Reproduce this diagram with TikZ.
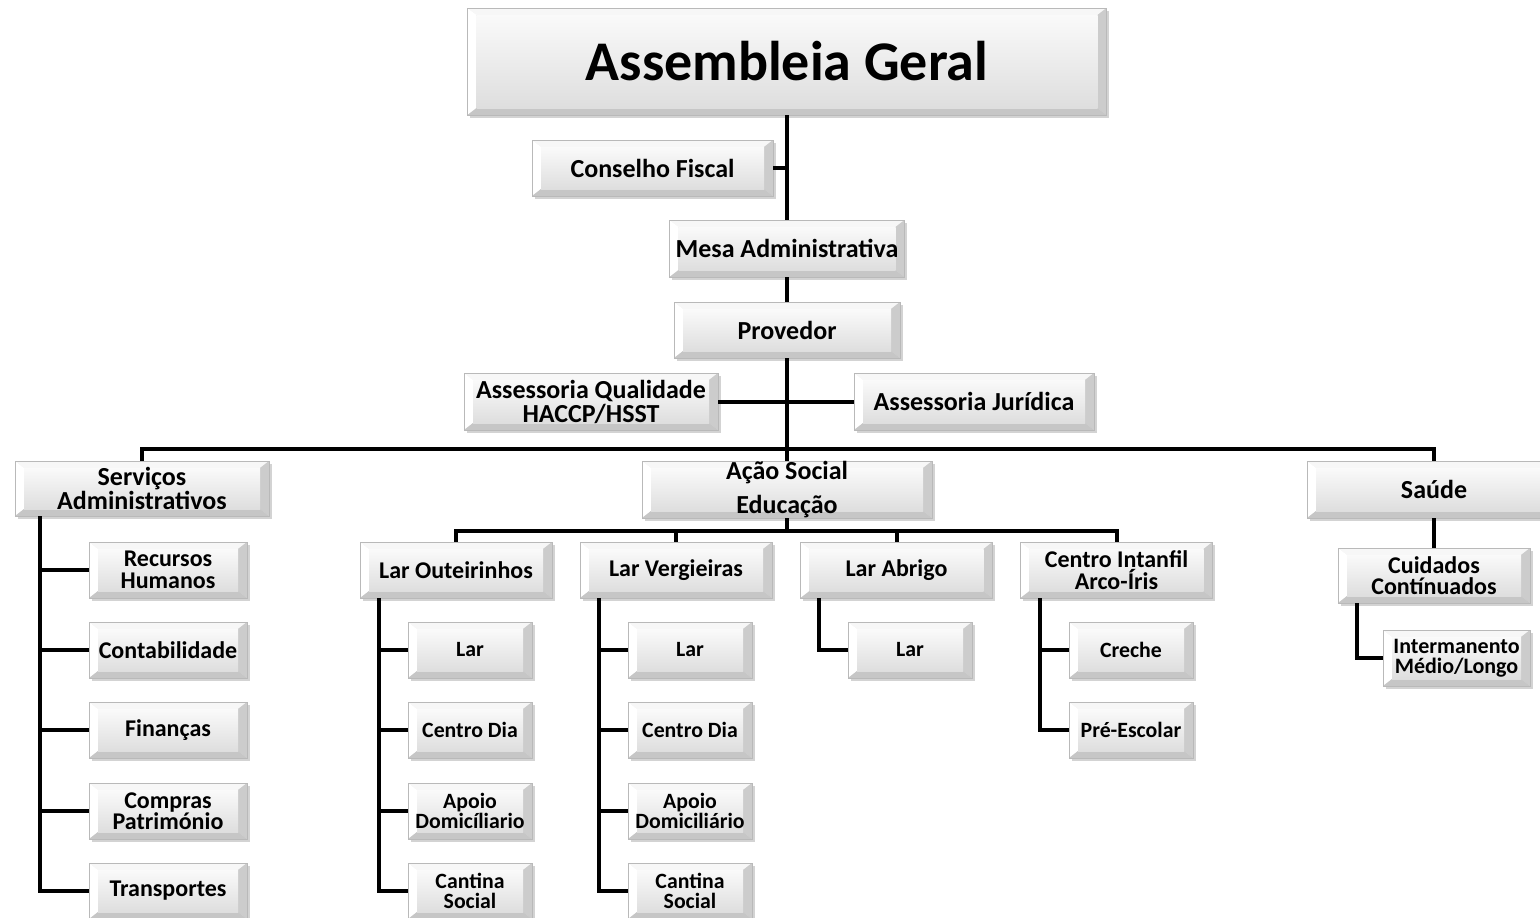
\documentclass[tikz,border=0pt]{standalone}
\usepackage{fontspec}
\setmainfont{Carlito}
\usetikzlibrary{shadows}
\tikzset{
  x=1pt, y=-1pt,
  bx/.style={draw=gray!55, line width=0.8pt, fill=gray!20,
    drop shadow={shadow xshift=2.5pt, shadow yshift=-2.5pt, opacity=0.35},
    align=center, inner sep=0pt, text=black,
    path picture={
      \path (path picture bounding box.north west) coordinate (pNW)
            (path picture bounding box.north east) coordinate (pNE)
            (path picture bounding box.south west) coordinate (pSW)
            (path picture bounding box.south east) coordinate (pSE);
      \path ([shift={(9pt,-7pt)}]pNW) coordinate (iNW)
            ([shift={(-9pt,-7pt)}]pNE) coordinate (iNE)
            ([shift={(9pt,7pt)}]pSW) coordinate (iSW)
            ([shift={(-9pt,7pt)}]pSE) coordinate (iSE);
      \fill[gray!6] (pNW) -- (iNW) -- (iNE) -- (pNE) -- cycle;
      \fill[white] (pNW) -- (iNW) -- (iSW) -- (pSW) -- cycle;
      \fill[gray!40] (pNE) -- (iNE) -- (iSE) -- (pSE) -- cycle;
      \fill[gray!45] (pSW) -- (iSW) -- (iSE) -- (pSE) -- cycle;
      \shade[top color=gray!4, bottom color=gray!26] (iNW) rectangle (iSE);
    }},
  fA/.style={font=\fontsize{56}{60}\selectfont\bfseries},
  fB/.style={font=\fontsize{26}{24}\selectfont\bfseries},
  fC/.style={font=\fontsize{24}{21.5}\selectfont\bfseries},
  fD/.style={font=\fontsize{21.8}{20.5}\selectfont\bfseries},
  fS/.style={font=\fontsize{24}{21.5}\selectfont\bfseries},
  small/.style={bx, fD, minimum width=124pt, minimum height=56pt},
  sadm/.style={bx, fS, minimum width=158pt, minimum height=56pt},
  mid/.style={bx, fC, minimum width=192pt, minimum height=56pt},
  ln/.style={line width=4pt, black}
}
\begin{document}
\begin{tikzpicture}
\useasboundingbox (0,0) rectangle (1540,918);
\coordinate (bus) at (0,449);
\coordinate (abus) at (0,531);
\coordinate (sx) at (40,0);
\coordinate (lox) at (379,0);
\coordinate (lvx) at (599,0);
\coordinate (lax) at (819,0);
\coordinate (cix) at (1040,0);
\coordinate (ccx) at (1357,0);

% top level
\node[bx, fA, minimum width=639pt, minimum height=107pt] (ag) at (787,61.5) {Assembleia Geral};
\node[bx, fB, minimum width=241pt, minimum height=56pt] (cf) at (652.5,168) {Conselho Fiscal};
\node[bx, fB, minimum width=235pt, minimum height=57pt] (ma) at (787,248.5) {Mesa Administrativa};
\node[bx, fB, minimum width=226pt, minimum height=56pt] (pv) at (787,330) {Provedor};
\node[bx, fB, minimum width=254pt, minimum height=57pt] (aq) at (591,401.5) {Assessoria Qualidade\\HACCP/HSST};
\node[bx, fB, minimum width=240pt, minimum height=57pt] (aj) at (974,401.5) {Assessoria Jurídica};
\node[bx, fB, minimum width=254pt, minimum height=55pt] (sa) at (142,488.5) {Serviços\\Administrativos};
\node[bx, fB, minimum width=290pt, minimum height=57pt] (as) at (787,489.5) {Ação Social\\[10pt]Educação};
\node[bx, fB, minimum width=254pt, minimum height=57pt] (sd) at (1434,489.5) {Saúde};

% servicos administrativos
\node[sadm] (rh) at (168,570) {Recursos\\Humanos};
\node[sadm] (ct) at (168,650) {Contabilidade};
\node[sadm] (fi) at (168,730) {Finanças};
\node[sadm] (cp) at (168,811) {Compras\\Património};
\node[sadm] (tr) at (168,891) {Transportes};

% acao social
\node[mid] (lo) at (456,570) {Lar Outeirinhos};
\node[mid] (lv) at (676,570) {Lar Vergieiras};
\node[mid] (la) at (896.5,570) {Lar Abrigo};
\node[mid] (ci) at (1116.5,570) {Centro Intanfil\\Arco-Íris};

\node[small] (lo1) at (470,650) {Lar};
\node[small] (lo2) at (470,730) {Centro Dia};
\node[small] (lo3) at (470,811) {Apoio\\Domicíliario};
\node[small] (lo4) at (470,891) {Cantina\\Social};

\node[small] (lv1) at (690,650) {Lar};
\node[small] (lv2) at (690,730) {Centro Dia};
\node[small] (lv3) at (690,811) {Apoio\\Domiciliário};
\node[small] (lv4) at (690,891) {Cantina\\Social};

\node[small] (la1) at (910,650) {Lar};

\node[small] (ci1) at (1131,650) {Creche};
\node[small] (ci2) at (1131,730) {Pré-Escolar};

% saude
\node[mid, minimum height=55pt] (cc) at (1434,575.5) {Cuidados\\Contínuados};
\node[bx, minimum width=147pt, minimum height=56pt, font=\fontsize{22}{20}\selectfont\bfseries] (im) at (1456.5,658) {Intermanento\\Médio/Longo};

% connectors
\draw[ln] (ag.south) -- (ma.north);
\draw[ln] (ma.south) -- (pv.north);
\draw[ln] (pv.south) -- (as.north);
\draw[ln] (cf.east) -- (cf.east -| ag.south);
\draw[ln] (aq.east) -- (aj.west);
\draw[ln] (sa.north) -- (sa.north |- bus) -- (sd.north |- bus) -- (sd.north);
\draw[ln] (as.south) -- (as.south |- abus);
\draw[ln] (lo.north) -- (lo.north |- abus) -- (ci.north |- abus) -- (ci.north);
\draw[ln] (lv.north) -- (lv.north |- abus);
\draw[ln] (la.north) -- (la.north |- abus);

\draw[ln] (sa.south -| sx) |- (tr.west);
\foreach \n in {rh,ct,fi,cp} \draw[ln] (\n.west) -- (\n.west -| sx);

\draw[ln] (lo.south -| lox) |- (lo4.west);
\foreach \n in {lo1,lo2,lo3} \draw[ln] (\n.west) -- (\n.west -| lox);

\draw[ln] (lv.south -| lvx) |- (lv4.west);
\foreach \n in {lv1,lv2,lv3} \draw[ln] (\n.west) -- (\n.west -| lvx);

\draw[ln] (la.south -| lax) |- (la1.west);

\draw[ln] (ci.south -| cix) |- (ci2.west);
\draw[ln] (ci1.west) -- (ci1.west -| cix);

\draw[ln] (sd.south) -- (cc.north);
\draw[ln] (cc.south -| ccx) |- (im.west);
\end{tikzpicture}
\end{document}
